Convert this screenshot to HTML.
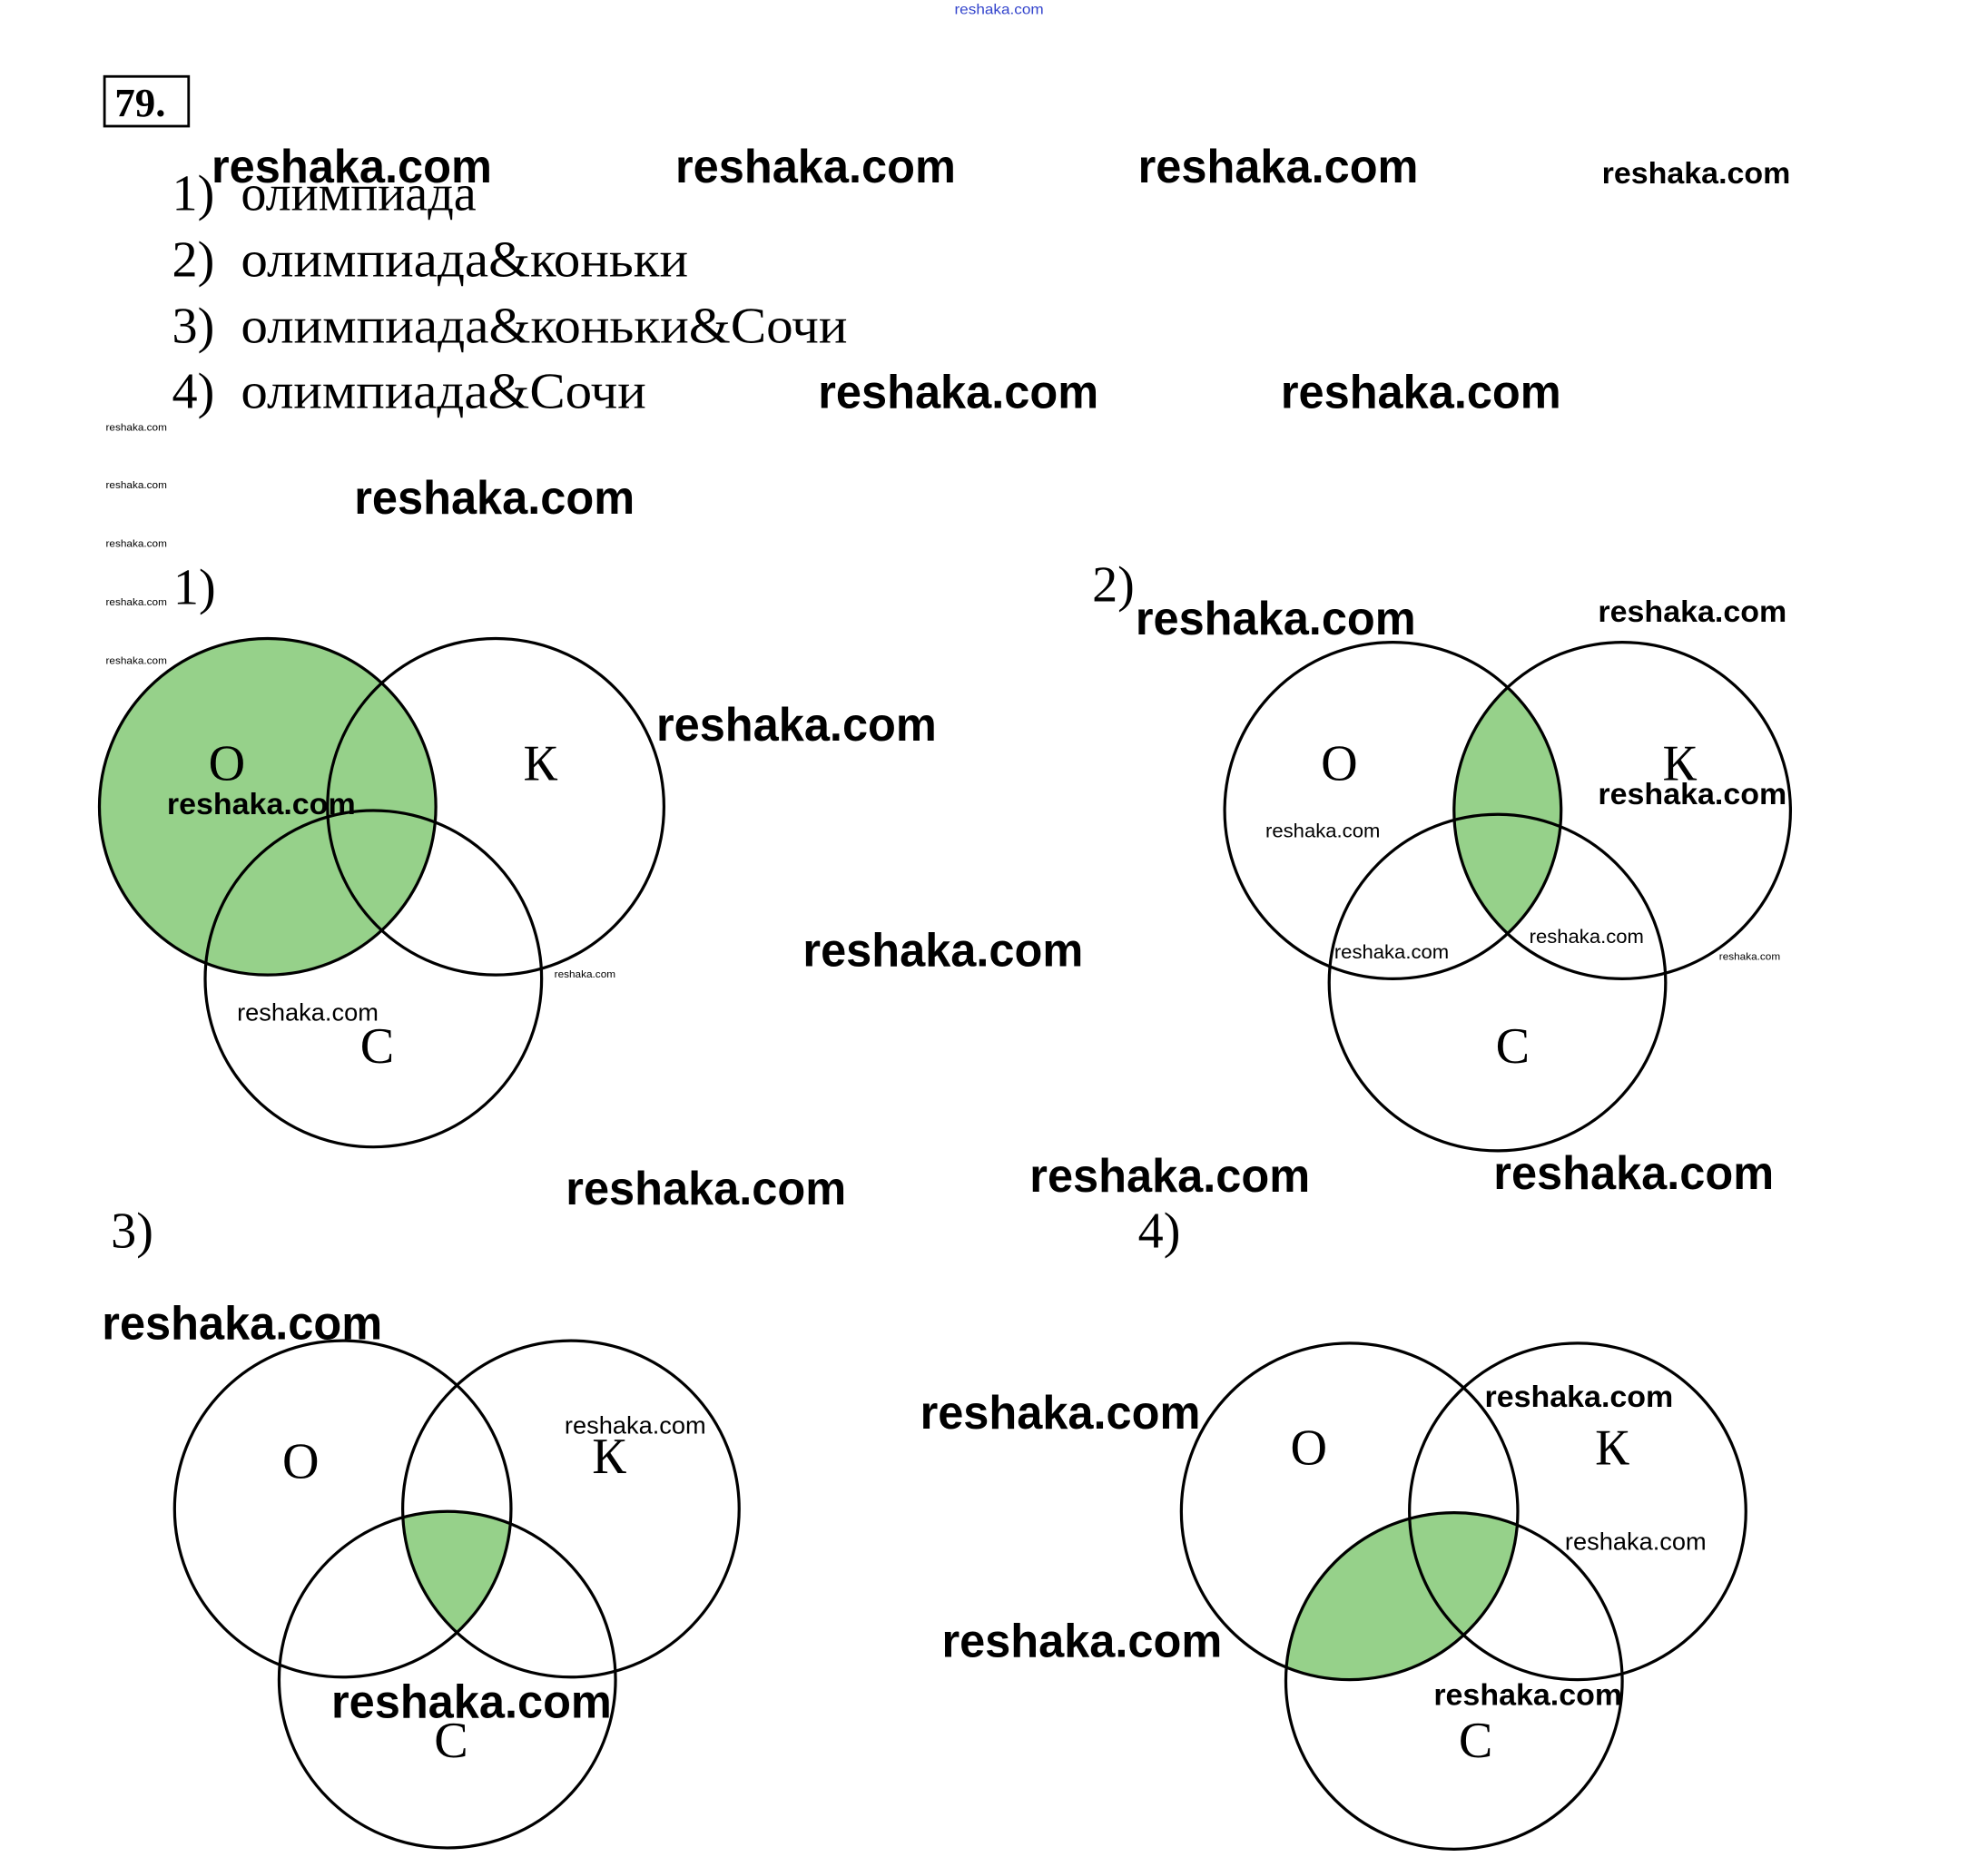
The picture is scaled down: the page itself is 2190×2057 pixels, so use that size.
<!DOCTYPE html>
<html><head><meta charset="utf-8"><style>html,body{margin:0;padding:0;background:#fff}svg{display:block}</style></head>
<body>
<svg width="2190" height="2057" viewBox="0 0 1560 1465" preserveAspectRatio="none" xmlns="http://www.w3.org/2000/svg">
<defs>
<clipPath id="o1"><circle cx="210" cy="633" r="132"/></clipPath>
<clipPath id="o2"><circle cx="1093" cy="636" r="132"/></clipPath>
<clipPath id="k2"><circle cx="1273" cy="636" r="132"/></clipPath>
<clipPath id="o3"><circle cx="269" cy="1184" r="132"/></clipPath>
<clipPath id="k3"><circle cx="448" cy="1184" r="132"/></clipPath>
<clipPath id="o4"><circle cx="1059" cy="1186" r="132"/></clipPath>
</defs>
<rect width="1560" height="1465" fill="#fff"/>
<!-- shading -->
<circle cx="210" cy="633" r="132" fill="#96d18a"/>
<g clip-path="url(#o2)"><circle cx="1273" cy="636" r="132" fill="#96d18a"/></g>
<g clip-path="url(#o3)"><g clip-path="url(#k3)"><circle cx="351" cy="1318" r="132" fill="#96d18a"/></g></g>
<g clip-path="url(#o4)"><circle cx="1141" cy="1319" r="132" fill="#96d18a"/></g>
<g fill="none" stroke="#000" stroke-width="2.3">
<circle cx="210" cy="633" r="132"/><circle cx="389" cy="633" r="132"/><circle cx="293" cy="768" r="132"/>
<circle cx="1093" cy="636" r="132"/><circle cx="1273" cy="636" r="132"/><circle cx="1175" cy="771" r="132"/>
<circle cx="269" cy="1184" r="132"/><circle cx="448" cy="1184" r="132"/><circle cx="351" cy="1318" r="132"/>
<circle cx="1059" cy="1186" r="132"/><circle cx="1238" cy="1186" r="132"/><circle cx="1141" cy="1319" r="132"/>
</g>
<!-- header -->
<rect x="82" y="60" width="66" height="39" fill="none" stroke="#000" stroke-width="2"/>
<text x="90" y="91" font-family="Liberation Serif, serif" font-weight="bold" font-size="32">79.</text>
<g font-family="Liberation Serif, serif" font-size="40" fill="#000">
<text x="135" y="165">1)</text><text x="189" y="165">олимпиада</text>
<text x="135" y="217">2)</text><text x="189" y="217" textLength="351" lengthAdjust="spacingAndGlyphs">олимпиада&amp;коньки</text>
<text x="135" y="269">3)</text><text x="189" y="269" textLength="476" lengthAdjust="spacingAndGlyphs">олимпиада&amp;коньки&amp;Сочи</text>
<text x="135" y="320">4)</text><text x="189" y="320" textLength="318" lengthAdjust="spacingAndGlyphs">олимпиада&amp;Сочи</text>
<text x="136" y="474">1)</text><text x="857" y="472">2)</text>
<text x="87" y="979">3)</text><text x="893" y="979">4)</text>
<text x="178" y="612" text-anchor="middle">O</text><text x="424" y="612" text-anchor="middle">К</text><text x="296" y="834" text-anchor="middle">С</text>
<text x="1051" y="612" text-anchor="middle">O</text><text x="1318" y="612" text-anchor="middle">К</text><text x="1187" y="834" text-anchor="middle">С</text>
<text x="236" y="1160" text-anchor="middle">O</text><text x="478" y="1156" text-anchor="middle">К</text><text x="354" y="1379" text-anchor="middle">С</text>
<text x="1027" y="1149" text-anchor="middle">O</text><text x="1265" y="1149" text-anchor="middle">К</text><text x="1158" y="1379" text-anchor="middle">С</text>
</g>
<!-- watermarks -->
<g font-family="Liberation Sans, sans-serif" font-weight="bold" fill="#000" font-size="37" lengthAdjust="spacingAndGlyphs">
<text x="166" y="143" textLength="220" lengthAdjust="spacingAndGlyphs">reshaka.com</text>
<text x="530" y="143" textLength="220" lengthAdjust="spacingAndGlyphs">reshaka.com</text>
<text x="893" y="143" textLength="220" lengthAdjust="spacingAndGlyphs">reshaka.com</text>
<text x="642" y="320" textLength="220" lengthAdjust="spacingAndGlyphs">reshaka.com</text>
<text x="1005" y="320" textLength="220" lengthAdjust="spacingAndGlyphs">reshaka.com</text>
<text x="278" y="403" textLength="220" lengthAdjust="spacingAndGlyphs">reshaka.com</text>
<text x="891" y="498" textLength="220" lengthAdjust="spacingAndGlyphs">reshaka.com</text>
<text x="515" y="581" textLength="220" lengthAdjust="spacingAndGlyphs">reshaka.com</text>
<text x="630" y="758" textLength="220" lengthAdjust="spacingAndGlyphs">reshaka.com</text>
<text x="444" y="945" textLength="220" lengthAdjust="spacingAndGlyphs">reshaka.com</text>
<text x="808" y="935" textLength="220" lengthAdjust="spacingAndGlyphs">reshaka.com</text>
<text x="1172" y="933" textLength="220" lengthAdjust="spacingAndGlyphs">reshaka.com</text>
<text x="80" y="1051" textLength="220" lengthAdjust="spacingAndGlyphs">reshaka.com</text>
<text x="722" y="1121" textLength="220" lengthAdjust="spacingAndGlyphs">reshaka.com</text>
<text x="739" y="1300" textLength="220" lengthAdjust="spacingAndGlyphs">reshaka.com</text>
<text x="260" y="1348" textLength="220" lengthAdjust="spacingAndGlyphs">reshaka.com</text>
</g>
<g font-family="Liberation Sans, sans-serif" font-weight="bold" fill="#000" font-size="24">
<text x="1257" y="144" textLength="148" lengthAdjust="spacingAndGlyphs">reshaka.com</text>
<text x="1254" y="488" textLength="148" lengthAdjust="spacingAndGlyphs">reshaka.com</text>
<text x="1254" y="631" textLength="148" lengthAdjust="spacingAndGlyphs">reshaka.com</text>
<text x="131" y="639" textLength="148" lengthAdjust="spacingAndGlyphs">reshaka.com</text>
<text x="1165" y="1104" textLength="148" lengthAdjust="spacingAndGlyphs">reshaka.com</text>
<text x="1125" y="1338" textLength="148" lengthAdjust="spacingAndGlyphs">reshaka.com</text>
</g>
<g font-family="Liberation Sans, sans-serif" fill="#000" font-size="19">
<text x="186" y="801" textLength="111" lengthAdjust="spacingAndGlyphs">reshaka.com</text>
<text x="443" y="1125" textLength="111" lengthAdjust="spacingAndGlyphs">reshaka.com</text>
<text x="1228" y="1216" textLength="111" lengthAdjust="spacingAndGlyphs">reshaka.com</text>
</g>
<g font-family="Liberation Sans, sans-serif" fill="#000" font-size="15">
<text x="993" y="657" textLength="90" lengthAdjust="spacingAndGlyphs">reshaka.com</text>
<text x="1047" y="752" textLength="90" lengthAdjust="spacingAndGlyphs">reshaka.com</text>
<text x="1200" y="740" textLength="90" lengthAdjust="spacingAndGlyphs">reshaka.com</text>
</g>
<g font-family="Liberation Sans, sans-serif" fill="#000" font-size="8">
<text x="83" y="338" textLength="48" lengthAdjust="spacingAndGlyphs">reshaka.com</text>
<text x="83" y="383" textLength="48" lengthAdjust="spacingAndGlyphs">reshaka.com</text>
<text x="83" y="429" textLength="48" lengthAdjust="spacingAndGlyphs">reshaka.com</text>
<text x="83" y="475" textLength="48" lengthAdjust="spacingAndGlyphs">reshaka.com</text>
<text x="83" y="521" textLength="48" lengthAdjust="spacingAndGlyphs">reshaka.com</text>
<text x="435" y="767" textLength="48" lengthAdjust="spacingAndGlyphs">reshaka.com</text>
<text x="1349" y="753" textLength="48" lengthAdjust="spacingAndGlyphs">reshaka.com</text>
</g>
<text x="749" y="11" font-family="Liberation Sans, sans-serif" font-size="11" fill="#3344cc" textLength="70" lengthAdjust="spacingAndGlyphs">reshaka.com</text>
</svg>
</body></html>
